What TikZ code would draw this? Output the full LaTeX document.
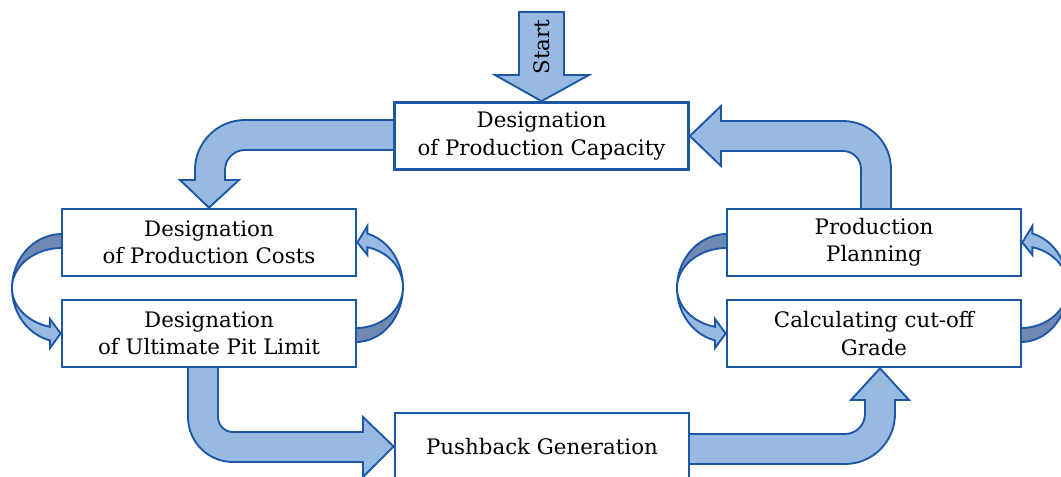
\documentclass[tikz,border=0pt]{standalone}
\usepackage{fontspec}
\setmainfont{DejaVu Serif}
\usepackage{tikz}
\usetikzlibrary{backgrounds}
\definecolor{MyFill}{RGB}{151,185,226}
\definecolor{MyLine}{RGB}{28,87,166}
\definecolor{MyBack}{RGB}{111,137,180}

\begin{document}
\begin{tikzpicture}[x=0.75pt, y=-0.75pt, every node/.style={font=\fontsize{16}{20.5}\selectfont}]
	\tikzstyle{blk} = [draw=MyLine, line width=2pt, fill=white, rectangle, minimum width=220.5pt, minimum height=50.25pt, inner sep=0pt, align=center]
	\tikzstyle{barrow} = [draw=MyLine, line width=1.4pt, fill=MyFill, line join=miter]
	\tikzstyle{bback} = [draw=MyLine, line width=1.4pt, fill=MyBack, line join=round]
	\useasboundingbox (0,0) rectangle (1061,477);

	\node[blk] (cap) at (541.5,136) {Designation\\of Production Capacity};
	\node[blk] (cost) at (209,242.5) {Designation\\of Production Costs};
	\node[blk] (upl) at (209,333.5) {Designation\\of Ultimate Pit Limit};
	\node[blk] (plan) at (874,242.5) {Production\\Planning};
	\node[blk] (cog) at (874,333.5) {Calculating cut-off\\Grade};
	\node[blk] (push) at (542,446.5) {Pushback Generation};

	\begin{scope}[on background layer]
		\draw[barrow] (519,12) -- (564,12) -- (564,75) -- (589,75) -- (cap.north) -- (495,75) -- (519,75) -- cycle;
		\draw[barrow] (394,120) -- (245,120) .. controls (217.4,120) and (195,142.4) .. (195,170) -- (195,180) -- (180,180) -- (cost.north) -- (239,180) -- (225,180) -- (225,170) .. controls (225,159) and (234,150) .. (245,150) -- (394,150) -- cycle;
		\draw[barrow] (861,209) -- (861,169) .. controls (861,159.1) and (852.9,151) .. (843,151) -- (721,151) -- (721,166) -- (cap.east) -- (721,106) -- (721,121) -- (843,121) .. controls (869.5,121) and (891,142.5) .. (891,169) -- (891,209) -- cycle;
		\draw[barrow] (188,367) -- (188,417) .. controls (188,441.9) and (208.1,462) .. (233,462) -- (363,462) -- (363,477) -- (push.west) -- (363,417) -- (363,432) -- (233,432) .. controls (224.7,432) and (218,425.3) .. (218,417) -- (218,367) -- cycle;
		\draw[barrow] (689,434) -- (845,434) .. controls (856,434) and (865,425) .. (865,414) -- (865,400) -- (851,400) -- ([xshift=4.5pt]cog.south) -- (909,400) -- (895,400) -- (895,414) .. controls (895,441.6) and (872.6,464) .. (845,464) -- (689,464) -- cycle;

		\draw[bback] plot[domain=270:180, samples=30] ({62+50*cos(\x)},{288+54*sin(\x)}) -- plot[domain=180:270, samples=30] ({62+50*cos(\x)},{288+40*sin(\x)}) -- cycle;
		\draw[barrow] plot[domain=180:104, samples=30] ({62+50*cos(\x)},{288+54*sin(\x)}) -- (50,348) -- (upl.west) -- (50,319) -- plot[domain=104:180, samples=30] ({62+50*cos(\x)},{288+40*sin(\x)}) -- cycle;
		\draw[bback] plot[domain=90:0, samples=30] ({356+47*cos(\x)},{287+55*sin(\x)}) -- plot[domain=0:90, samples=30] ({356+47*cos(\x)},{287+41*sin(\x)}) -- cycle;
		\draw[barrow] plot[domain=0:-76, samples=30] ({356+47*cos(\x)},{287+55*sin(\x)}) -- (367.4,226) -- (cost.east) -- (367.4,255) -- plot[domain=-76:0, samples=30] ({356+47*cos(\x)},{287+41*sin(\x)}) -- cycle;

		\draw[bback] plot[domain=270:180, samples=30] ({727+50*cos(\x)},{288+54*sin(\x)}) -- plot[domain=180:270, samples=30] ({727+50*cos(\x)},{288+40*sin(\x)}) -- cycle;
		\draw[barrow] plot[domain=180:104, samples=30] ({727+50*cos(\x)},{288+54*sin(\x)}) -- (715,348) -- (cog.west) -- (715,319) -- plot[domain=104:180, samples=30] ({727+50*cos(\x)},{288+40*sin(\x)}) -- cycle;
		\draw[bback] plot[domain=90:0, samples=30] ({1021+47*cos(\x)},{287+55*sin(\x)}) -- plot[domain=0:90, samples=30] ({1021+47*cos(\x)},{287+41*sin(\x)}) -- cycle;
		\draw[barrow] plot[domain=0:-76, samples=30] ({1021+47*cos(\x)},{287+55*sin(\x)}) -- (1032.4,226) -- (plan.east) -- (1032.4,255) -- plot[domain=-76:0, samples=30] ({1021+47*cos(\x)},{287+41*sin(\x)}) -- cycle;
	\end{scope}

	\node[rotate=90] (start) at (541.5,47) {Start};
\end{tikzpicture}
\end{document}
